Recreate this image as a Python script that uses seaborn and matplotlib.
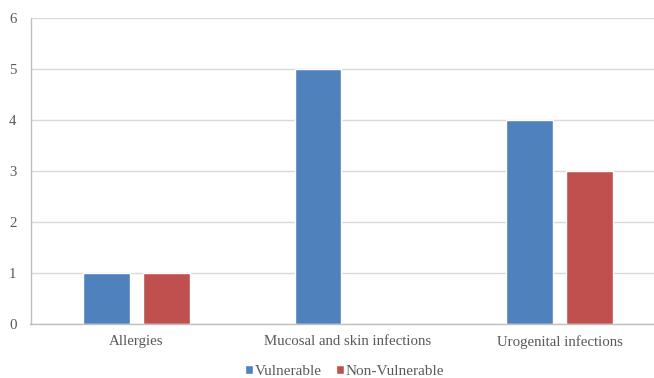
import matplotlib
matplotlib.use("Agg")
import matplotlib.pyplot as plt
import seaborn as sns
import pandas as pd

categories = ["Allergies", "Mucosal and skin infections", "Urogenital infections"]
vulnerable = [1, 5, 4]
non_vulnerable = [1, 0, 3]
series_names = ["Vulnerable", "Non-Vulnerable"]
y_ticks = [0, 1, 2, 3, 4, 5, 6]

df = pd.DataFrame({
    "category": categories * 2,
    "value": vulnerable + non_vulnerable,
    "group": [series_names[0]] * 3 + [series_names[1]] * 3,
})

sns.set_theme(style="white")
plt.rcParams["font.family"] = ["Liberation Serif", "DejaVu Serif"]
text_color = "#595959"

fig = plt.figure(figsize=(6.54, 3.78), dpi=100)
# plot area runs slightly past the right edge of the canvas
ax = fig.add_axes([30.5 / 654, 54 / 378, 635 / 654, 306 / 378])

sns.barplot(data=df, x="category", y="value", hue="group", order=categories,
            hue_order=series_names, palette=["#4F81BD", "#C0504D"],
            saturation=1, width=0.567, gap=0.217, ax=ax, legend=True)

ax.set_ylim(0, 6)
ax.set_yticks(y_ticks)
ax.set_xlim(-0.5, 2.5)
ax.yaxis.grid(True, color="#D9D9D9", linewidth=1)
ax.set_axisbelow(True)
for s in ["top", "right"]:
    ax.spines[s].set_visible(False)
for s in ["left", "bottom"]:
    ax.spines[s].set_color("#BFBFBF")
    ax.spines[s].set_linewidth(1)
ax.set_xlabel("")
ax.set_ylabel("")
ax.tick_params(axis="both", length=0, labelsize=10.7, colors=text_color)
ax.tick_params(axis="x", pad=8)
ax.tick_params(axis="y", pad=10)

ax.legend(loc="center", bbox_to_anchor=(0.495, -0.156), ncol=2, frameon=False,
          fontsize=11, handlelength=0.5, handleheight=0.5, handletextpad=0.15,
          columnspacing=0.9, labelcolor=text_color, borderpad=0)

fig.savefig("out.png", dpi=100)
